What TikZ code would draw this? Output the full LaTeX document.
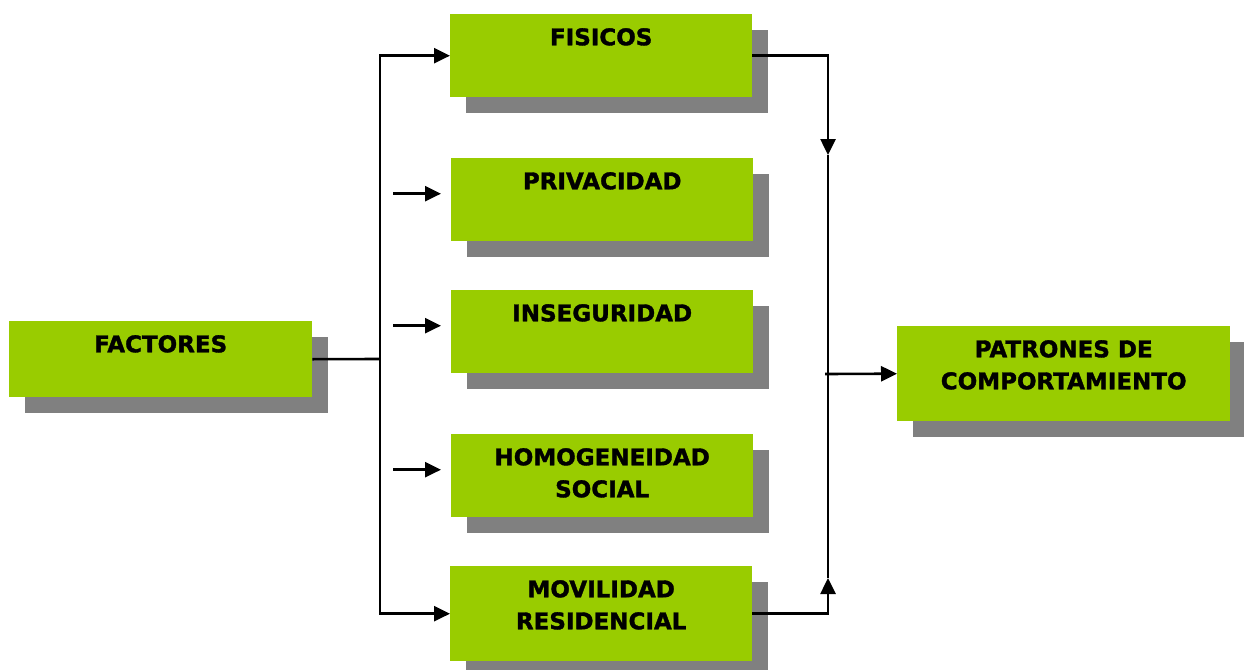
\documentclass[tikz,border=0pt]{standalone}
\usepackage{fontspec}
\setmainfont{DejaVu Sans}[BoldFeatures={FakeBold=1.5}]
\usetikzlibrary{arrows.meta,shadows}
\definecolor{boxgreen}{HTML}{99CC00}
\definecolor{shadowgray}{HTML}{808080}
\tikzset{
    factorbox/.style={rectangle, fill=boxgreen, inner sep=0pt, anchor=north west,
        minimum width=302pt, minimum height=83pt,
        drop shadow={shadow xshift=16pt, shadow yshift=-16pt, fill=shadowgray, opacity=1}},
    boxtext/.style={anchor=north, yshift=-14pt, inner sep=0pt, align=center,
        font=\fontsize{23}{32}\selectfont\bfseries},
    titled/.style={label={[boxtext]north:#1}},
    conn/.style={line width=2.6pt},
    arr/.style={conn, -{Triangle[length=16pt,width=15pt]}}
}

\begin{document}
\begin{tikzpicture}[x=1pt, y=-1pt]
    \useasboundingbox (0,0) rectangle (1244,669);

    \node[factorbox, minimum width=303pt, minimum height=76pt,
        titled={FACTORES}] (fac) at (9,321) {};
    \node[factorbox, titled={FISICOS}] (fis) at (450,14) {};
    \node[factorbox, titled={PRIVACIDAD}] (priv) at (451,158) {};
    \node[factorbox, titled={INSEGURIDAD}] (ins) at (451,290) {};
    \node[factorbox, titled={HOMOGENEIDAD\\SOCIAL}] (hom) at (451,434) {};
    \node[factorbox, minimum height=95pt,
        titled={MOVILIDAD\\RESIDENCIAL}] (mov) at (450,566) {};
    \node[factorbox, minimum width=333pt, minimum height=95pt,
        titled={PATRONES DE\\COMPORTAMIENTO}] (pat) at (897,326) {};

    \coordinate (split) at (380,359);
    \coordinate (jtop) at (828,155);
    \coordinate (jbot) at (828,578);
    \coordinate (jmid) at (825,374);

    % left side
    \draw[conn] (fac.east) -- (split);
    \draw[arr] (split) |- (fis.west);
    \draw[arr] (split) |- (mov.west);
    \draw[arr] ([xshift=-58pt,yshift=6pt]priv.west) -- ([xshift=-10pt,yshift=6pt]priv.west);
    \draw[arr] ([xshift=-58pt,yshift=6pt]ins.west) -- ([xshift=-10pt,yshift=6pt]ins.west);
    \draw[arr] ([xshift=-58pt,yshift=6pt]hom.west) -- ([xshift=-10pt,yshift=6pt]hom.west);

    % right side
    \draw[arr] (fis.east) -| (jtop);
    \draw[arr] (mov.east) -| (jbot);
    \draw[conn] (jtop) -- (jbot);
    \draw[arr] (jmid) -- (pat.west);
\end{tikzpicture}
\end{document}
